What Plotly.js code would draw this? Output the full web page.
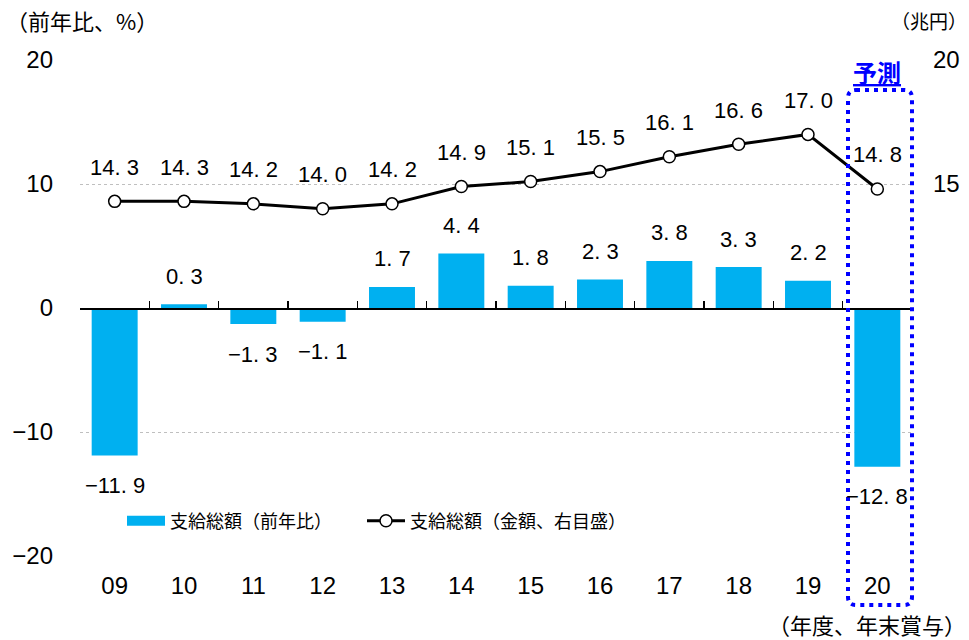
<!DOCTYPE html>
<html><head><meta charset="utf-8">
<script src="https://cdn.plot.ly/plotly-3.0.1.min.js"></script>
<style>html,body{margin:0;padding:0;background:#fff}</style>
</head><body><div id="chart" style="width:969px;height:640px"></div>
<script>
// ---- data ----
const years = ['09','10','11','12','13','14','15','16','17','18','19','20'];
const yoyChange = [-11.9, 0.3, -1.3, -1.1, 1.7, 4.4, 1.8, 2.3, 3.8, 3.3, 2.2, -12.8];
const totalAmount = [14.3, 14.3, 14.2, 14.0, 14.2, 14.9, 15.1, 15.5, 16.1, 16.6, 17.0, 14.8];
const leftTicks = [-20, -10, 0, 10, 20];
const rightTicks = [15, 20];
const barName = '支給総額（前年比）';
const lineName = '支給総額（金額、右目盛）';
const forecastLabel = '予測';
const leftTitle = '（前年比、%）';
const rightTitle = '（兆円）';
const xTitle = '（年度、年末賞与）';

// ---- styling ----
const NUM = 'Liberation Sans Narrow, Arial Narrow, Liberation Sans, sans-serif';
const CJK = 'Noto Sans CJK JP, sans-serif';
const BLUE = '#00B0F0';
const L = 80, R = 57, T = 60, B = 84, W = 969, H = 640;
const PW = W - L - R, PH = H - T - B;
const px = x => (x - L) / PW;
const py = y => (H - B - y) / PH;
const fmt = v => (v < 0 ? '\u2212' : '') + Math.abs(v).toFixed(1).replace('.', '. ');

const traces = [
  {type:'bar', x: years, y: yoyChange, xaxis:'x', yaxis:'y', marker:{color: BLUE},
   name: barName, showlegend:false, legendgroup:'bar', hoverinfo:'skip'},
  {type:'scatter', mode:'lines', x:[null], y:[null], xaxis:'x', yaxis:'y',
   line:{color: BLUE, width: 12}, name: barName, legendgroup:'bar', showlegend:true, legend:'legend'},
  {type:'scatter', mode:'lines+markers', x: years, y: totalAmount, xaxis:'x2', yaxis:'y2',
   line:{color:'#000', width:3},
   marker:{symbol:'circle', size:12, color:'#fff', line:{color:'#000', width:1.5}},
   name: lineName, showlegend:true, legend:'legend2'}
];

const annotations = [];
years.forEach((c, i) => {
  const v = yoyChange[i];
  annotations.push({x:i, y:v, xref:'x', yref:'y', text: fmt(v), showarrow:false,
    yanchor:'middle', yshift: v >= 0 ? 28 : -30, font:{family:NUM, size:22, color:'#000'}});
  annotations.push({x:i, y:totalAmount[i], xref:'x2', yref:'y2', text: fmt(totalAmount[i]), showarrow:false,
    yanchor:'middle', yshift: 34, font:{family:NUM, size:22, color:'#000'}});
});
annotations.push({xref:'paper', yref:'paper', x:px(4), y:py(20), xanchor:'left', yanchor:'middle',
  text:leftTitle, showarrow:false, font:{family:CJK, size:22, color:'#000'}});
annotations.push({xref:'paper', yref:'paper', x:px(889), y:py(20), xanchor:'left', yanchor:'middle',
  text:rightTitle, showarrow:false, font:{family:CJK, size:19, color:'#000'}});
annotations.push({xref:'paper', yref:'paper', x:px(968), y:py(624), xanchor:'right', yanchor:'middle',
  text:xTitle, showarrow:false, font:{family:CJK, size:22, color:'#000'}});
annotations.push({xref:'paper', yref:'paper', x:px(877), y:py(72), xanchor:'center', yanchor:'middle',
  text:'<b><u>' + forecastLabel + '</u></b>', showarrow:false, font:{family:CJK, size:24, color:'#0000FF'}});

// dotted rounded box around forecast
const bx0 = px(848), bx1 = px(912), byT = py(90), byB = py(605);
const rx = 8 / PW, ry = 8 / PH;
const boxPath = `M ${bx0+rx},${byT} L ${bx1-rx},${byT} Q ${bx1},${byT} ${bx1},${byT-ry} ` +
  `L ${bx1},${byB+ry} Q ${bx1},${byB} ${bx1-rx},${byB} L ${bx0+rx},${byB} Q ${bx0},${byB} ${bx0},${byB+ry} ` +
  `L ${bx0},${byT-ry} Q ${bx0},${byT} ${bx0+rx},${byT} Z`;

const legendBase = {orientation:'h', yanchor:'middle', xanchor:'left', y:py(521),
  bgcolor:'rgba(0,0,0,0)', font:{family:CJK, size:18, color:'#000'}, itemwidth:38};

const layout = {
  width:W, height:H,
  margin:{l:L, r:R, t:T, b:B, pad:0},
  paper_bgcolor:'#fff', plot_bgcolor:'#fff',
  bargap:0.337,
  showlegend:true,
  legend:Object.assign({}, legendBase, {x:px(122)}),
  legend2:Object.assign({}, legendBase, {x:px(362)}),
  xaxis:{type:'category', categoryarray:years, range:[-0.5, 11.5], showline:false, showgrid:false,
    zeroline:false, ticks:'', tickfont:{family:NUM, size:24, color:'#000'}, ticklabelstandoff:13},
  xaxis2:{type:'category', categoryarray:years, range:[-0.5, 11.5], overlaying:'x', anchor:'free',
    position:0.5, showline:true, linecolor:'#000', linewidth:1.5, ticks:'inside', tickson:'boundaries',
    ticklen:7, tickwidth:1.5, tickcolor:'#000', showticklabels:false, showgrid:false, zeroline:false},
  yaxis:{range:[-20, 20], tickvals:leftTicks, ticks:'', showline:false, zeroline:false,
    showgrid:true, gridcolor:'#BFBFBF', griddash:'dot', gridwidth:1,
    tickfont:{family:NUM, size:24, color:'#000'}, ticklabelstandoff:26},
  yaxis2:{range:[0, 20], tickvals:rightTicks, side:'right', overlaying:'y', anchor:'x',
    showgrid:false, zeroline:false, showline:false, ticks:'',
    tickfont:{family:NUM, size:24, color:'#000'}, ticklabelstandoff:20},
  annotations: annotations,
  shapes:[{type:'path', xref:'paper', yref:'paper', path: boxPath,
    line:{color:'#0000FF', width:4, dash:'4px,5px'}, fillcolor:'rgba(0,0,0,0)', layer:'above'}]
};

Plotly.newPlot('chart', traces, layout, {staticPlot:true, displayModeBar:false});
</script>
</body></html>
